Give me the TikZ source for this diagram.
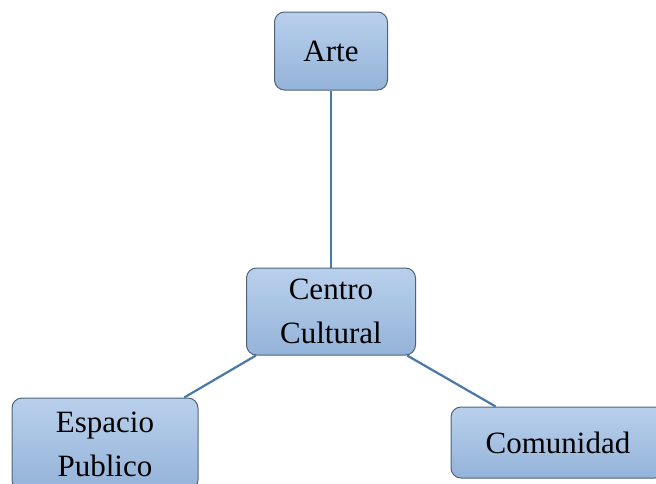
\documentclass[tikz,border=0pt]{standalone}
\usepackage{fontspec}
\setmainfont{Liberation Serif}
\usepackage{tikz}
\usetikzlibrary{shapes}

\definecolor{boxtop}{HTML}{B9D0EC}
\definecolor{boxbot}{HTML}{94B3D9}
\definecolor{boxline}{HTML}{4F6279}
\definecolor{linkcol}{HTML}{4A78A8}

\begin{document}
\begin{tikzpicture}[x=1pt,y=-1pt,
	box/.style={draw=boxline, line width=1pt, rounded corners=10pt, top color=boxtop, bottom color=boxbot, align=center, inner sep=0pt, font=\fontsize{31}{44}\selectfont},
	link/.style={draw=linkcol, line width=2.2pt}]
	\clip (0,0) rectangle (656,483);
	\node [box, minimum width=113pt, minimum height=78pt] (arte) at (331,51) {Arte};
	\node [box, minimum width=169pt, minimum height=87pt] (centro) at (331,311.5) {Centro\\Cultural};
	\node [box, minimum width=186pt, minimum height=92pt] (espacio) at (105,444) {Espacio\\Publico};
	\node [box, minimum width=214pt, minimum height=71pt] (comunidad) at (558,442.5) {Comunidad};
	\path [link] (arte) edge (centro);
	\path [link] (centro) edge (espacio);
	\path [link] (centro) edge (comunidad);
\end{tikzpicture}
\end{document}
